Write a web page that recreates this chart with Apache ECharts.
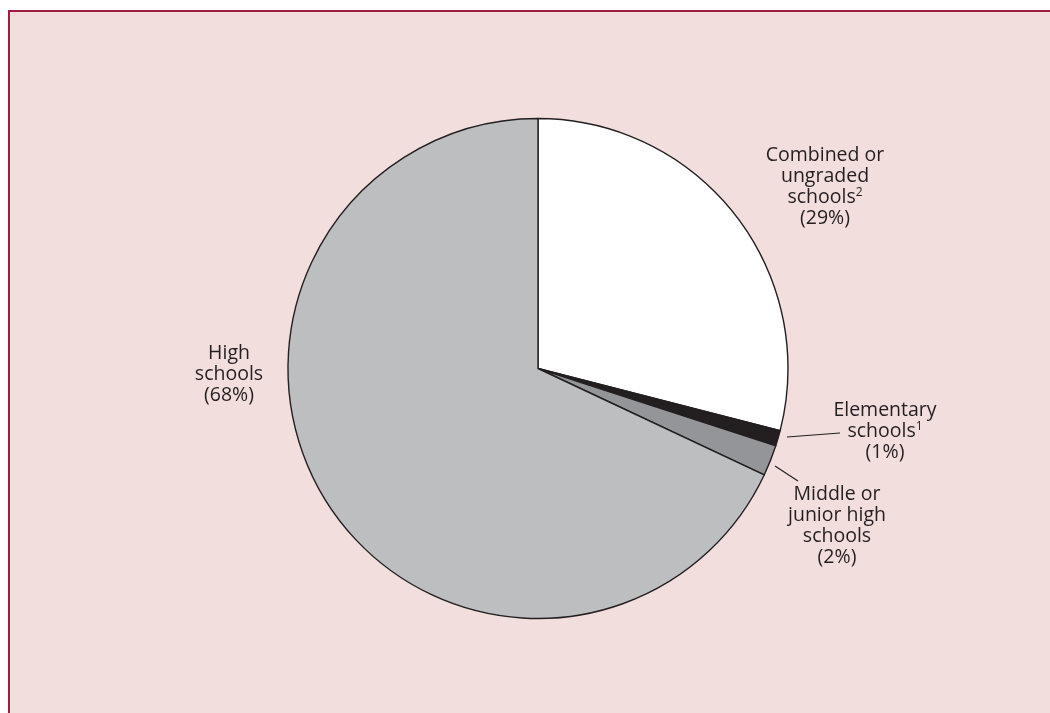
<!DOCTYPE html>
<html>
<head>
<meta charset="utf-8">
<title>Schools by level</title>
<script src="https://cdn.jsdelivr.net/npm/echarts@6/dist/echarts.min.js"></script>
<style>
  html, body {
    margin: 0;
    padding: 0;
    background: #ffffff;
    overflow: hidden;
  }
  .frame {
    position: absolute;
    left: 8px;
    top: 10px;
    width: 1100px;
    height: 760px;
    background: #f2dedc;
    border-top: 2px solid #9d1c40;
    border-left: 2px solid #9d1c40;
  }
  #chart {
    position: absolute;
    left: 0;
    top: 0;
    width: 1050px;
    height: 713px;
  }
</style>
</head>
<body>
<div class="frame"></div>
<div id="chart"></div>
<script>
// data
const categories = ['Combined or\nungraded\nschools', 'Elementary\nschools', 'Middle or\njunior high\nschools', 'High\nschools']
const footnotes = ['2', '1', '', '']
const shares = [29, 1, 2, 68]

const colors = ['#ffffff', '#231f20', '#939598', '#bcbec0']

// where each label block sits (center x, top y) and its leader line, if any
const labelPos = [[825, 145], [885, 400], [837, 484], [229, 343]]
const leaders = [null, [[787, 437], [840, 433]], [[775, 466], [798, 481]], null]

let myChart = echarts.init(document.getElementById('chart'), null, { renderer: 'canvas' })

let options = {
  animation: false,
  series: [
    {
      type: 'pie',
      center: [538, 368.5],
      radius: 250,
      startAngle: 90,
      clockwise: true,
      silent: true,
      itemStyle: {
        borderColor: '#231f20',
        borderWidth: 1.4
      },
      label: {
        show: true,
        fontFamily: 'Open Sans',
        fontSize: 19.5,
        lineHeight: 21,
        color: '#231f20',
        align: 'center',
        formatter: function (p) {
          let i = p.dataIndex
          let name = p.name
          if (footnotes[i]) name += '{sup|' + footnotes[i] + '}'
          return name + '\n(' + p.value + '%)'
        },
        rich: {
          sup: {
            fontFamily: 'Open Sans',
            fontSize: 12,
            color: '#231f20',
            verticalAlign: 'top',
            lineHeight: 21,
            padding: [0, 0, 6, 0]
          }
        }
      },
      labelLine: {
        show: true,
        lineStyle: {
          color: '#231f20',
          width: 1.2
        }
      },
      labelLayout: function (p) {
        let pos = labelPos[p.dataIndex]
        let out = {
          x: pos[0],
          y: pos[1],
          align: 'center',
          verticalAlign: 'top',
          hideOverlap: false,
          moveOverlap: false
        }
        if (leaders[p.dataIndex]) out.labelLinePoints = leaders[p.dataIndex]
        return out
      },
      data: categories.map(function (c, i) {
        return {
          name: c,
          value: shares[i],
          itemStyle: { color: colors[i] },
          labelLine: { show: leaders[i] !== null }
        }
      })
    }
  ]
}

myChart.setOption(options)
</script>
</body>
</html>
